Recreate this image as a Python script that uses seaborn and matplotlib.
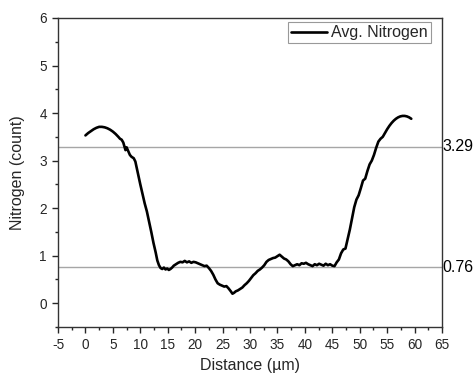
import numpy as np
import pandas as pd
import matplotlib
matplotlib.use("Agg")
import matplotlib.pyplot as plt
from matplotlib.ticker import MultipleLocator
import seaborn as sns

distance = [0.0, 0.5, 1.0, 1.5, 2.0, 2.5, 3.0, 3.5, 4.0, 4.5, 5.0, 5.5, 6.0, 6.3, 6.6, 6.9,
            7.1, 7.3, 7.5, 7.8, 8.1, 8.4, 8.8, 9.1, 9.4, 9.7, 10.0, 10.4, 10.8, 11.2, 11.6,
            12.0, 12.4, 12.8, 13.1, 13.4, 13.7, 14.0, 14.3, 14.6, 14.9, 15.2, 15.5, 15.8,
            16.1, 16.5, 16.9, 17.3, 17.7, 18.1, 18.5, 18.9, 19.3, 19.7, 20.1, 20.5, 20.9,
            21.3, 21.7, 22.1, 22.5, 22.9, 23.3, 23.7, 24.1, 24.5, 24.9, 25.3, 25.7, 26.1,
            26.5, 26.8, 27.1, 27.4, 27.8, 28.2, 28.6, 29.0, 29.4, 29.8, 30.2, 30.6, 31.0,
            31.4, 31.8, 32.2, 32.6, 33.0, 33.4, 33.8, 34.2, 34.6, 35.0, 35.4, 35.8, 36.2,
            36.6, 37.0, 37.4, 37.8, 38.2, 38.6, 39.0, 39.4, 39.8, 40.2, 40.6, 41.0, 41.4,
            41.8, 42.2, 42.6, 43.0, 43.4, 43.8, 44.2, 44.6, 45.0, 45.4, 45.8, 46.2, 46.6,
            47.0, 47.4, 47.8, 48.2, 48.6, 49.0, 49.4, 49.8, 50.2, 50.6, 51.0, 51.4, 51.8,
            52.2, 52.6, 53.0, 53.4, 53.8, 54.2, 54.6, 55.0, 55.4, 55.8, 56.2, 56.6, 57.0,
            57.4, 57.8, 58.2, 58.6, 59.0, 59.4]
nitrogen = [3.53, 3.58, 3.62, 3.66, 3.69, 3.71, 3.71, 3.70, 3.68, 3.65, 3.61, 3.56, 3.50, 3.46,
            3.44, 3.38, 3.30, 3.22, 3.28, 3.20, 3.12, 3.08, 3.05, 2.98, 2.82, 2.65, 2.50, 2.30,
            2.10, 1.93, 1.72, 1.50, 1.27, 1.07, 0.90, 0.80, 0.74, 0.72, 0.75, 0.71, 0.73, 0.70,
            0.72, 0.75, 0.79, 0.82, 0.85, 0.87, 0.86, 0.89, 0.86, 0.88, 0.85, 0.87, 0.86, 0.84,
            0.82, 0.80, 0.78, 0.79, 0.74, 0.68, 0.60, 0.50, 0.42, 0.39, 0.37, 0.35, 0.36, 0.31,
            0.25, 0.20, 0.22, 0.25, 0.27, 0.30, 0.33, 0.38, 0.42, 0.47, 0.53, 0.59, 0.63, 0.68,
            0.71, 0.75, 0.80, 0.87, 0.91, 0.93, 0.95, 0.96, 0.99, 1.02, 0.98, 0.94, 0.92, 0.88,
            0.82, 0.78, 0.80, 0.82, 0.80, 0.84, 0.83, 0.85, 0.82, 0.80, 0.78, 0.82, 0.80, 0.83,
            0.81, 0.79, 0.83, 0.80, 0.82, 0.79, 0.78, 0.86, 0.92, 1.05, 1.13, 1.15, 1.35, 1.55,
            1.78, 2.02, 2.18, 2.27, 2.42, 2.58, 2.62, 2.78, 2.92, 3.00, 3.12, 3.27, 3.40, 3.46,
            3.50, 3.58, 3.66, 3.73, 3.79, 3.84, 3.88, 3.91, 3.93, 3.94, 3.94, 3.93, 3.91, 3.88]
ref_levels = [3.29, 0.76]
ref_labels = ["3.29", "0.76"]
series_name = "Avg. Nitrogen"

df = pd.DataFrame({"Distance": distance, "Nitrogen": nitrogen, "series": series_name})

sns.set_style("ticks")
plt.rcParams["font.family"] = ["Liberation Sans", "DejaVu Sans"]
plt.rcParams["font.size"] = 9
plt.rcParams["axes.unicode_minus"] = False

fig = plt.figure(figsize=(4.74, 3.74), dpi=100)
ax = fig.add_axes([0.1224, 0.1257, 0.8101, 0.8262])

for lv, lab in zip(ref_levels, ref_labels):
    ax.axhline(lv, color="#a6a6a6", lw=1.0, zorder=1)
    ax.text(1.0, lv, lab, transform=ax.get_yaxis_transform(), ha="left", va="center",
            fontsize=11.5, color="black")

sns.lineplot(data=df, x="Distance", y="Nitrogen", hue="series", palette=["black"],
             lw=1.9, ax=ax, zorder=3, sort=False)

ax.set_xlim(-5, 65)
ax.set_ylim(-0.5, 6)
ax.xaxis.set_major_locator(MultipleLocator(5))
ax.xaxis.set_minor_locator(MultipleLocator(2.5))
ax.yaxis.set_major_locator(MultipleLocator(1))
ax.yaxis.set_minor_locator(MultipleLocator(0.5))
ax.tick_params(which="major", length=4, width=1, direction="out", labelsize=9.8, pad=4)
ax.tick_params(which="minor", length=2.5, width=1, direction="out")
for s in ax.spines.values():
    s.set_linewidth(1.0)
    s.set_color("#333333")
ax.set_xlabel("Distance (µm)", fontsize=11.5, labelpad=4)
ax.set_ylabel("Nitrogen (count)", fontsize=11.5, labelpad=10)

leg = ax.legend(loc="upper right", frameon=True, fancybox=False, fontsize=11.5,
                handlelength=2.25, borderpad=0.2, handletextpad=0.25,
                borderaxespad=0.0, bbox_to_anchor=(0.9714, 0.987))
leg.get_frame().set_edgecolor("#808080")
leg.get_frame().set_linewidth(0.8)

fig.savefig("out.png", dpi=100)
